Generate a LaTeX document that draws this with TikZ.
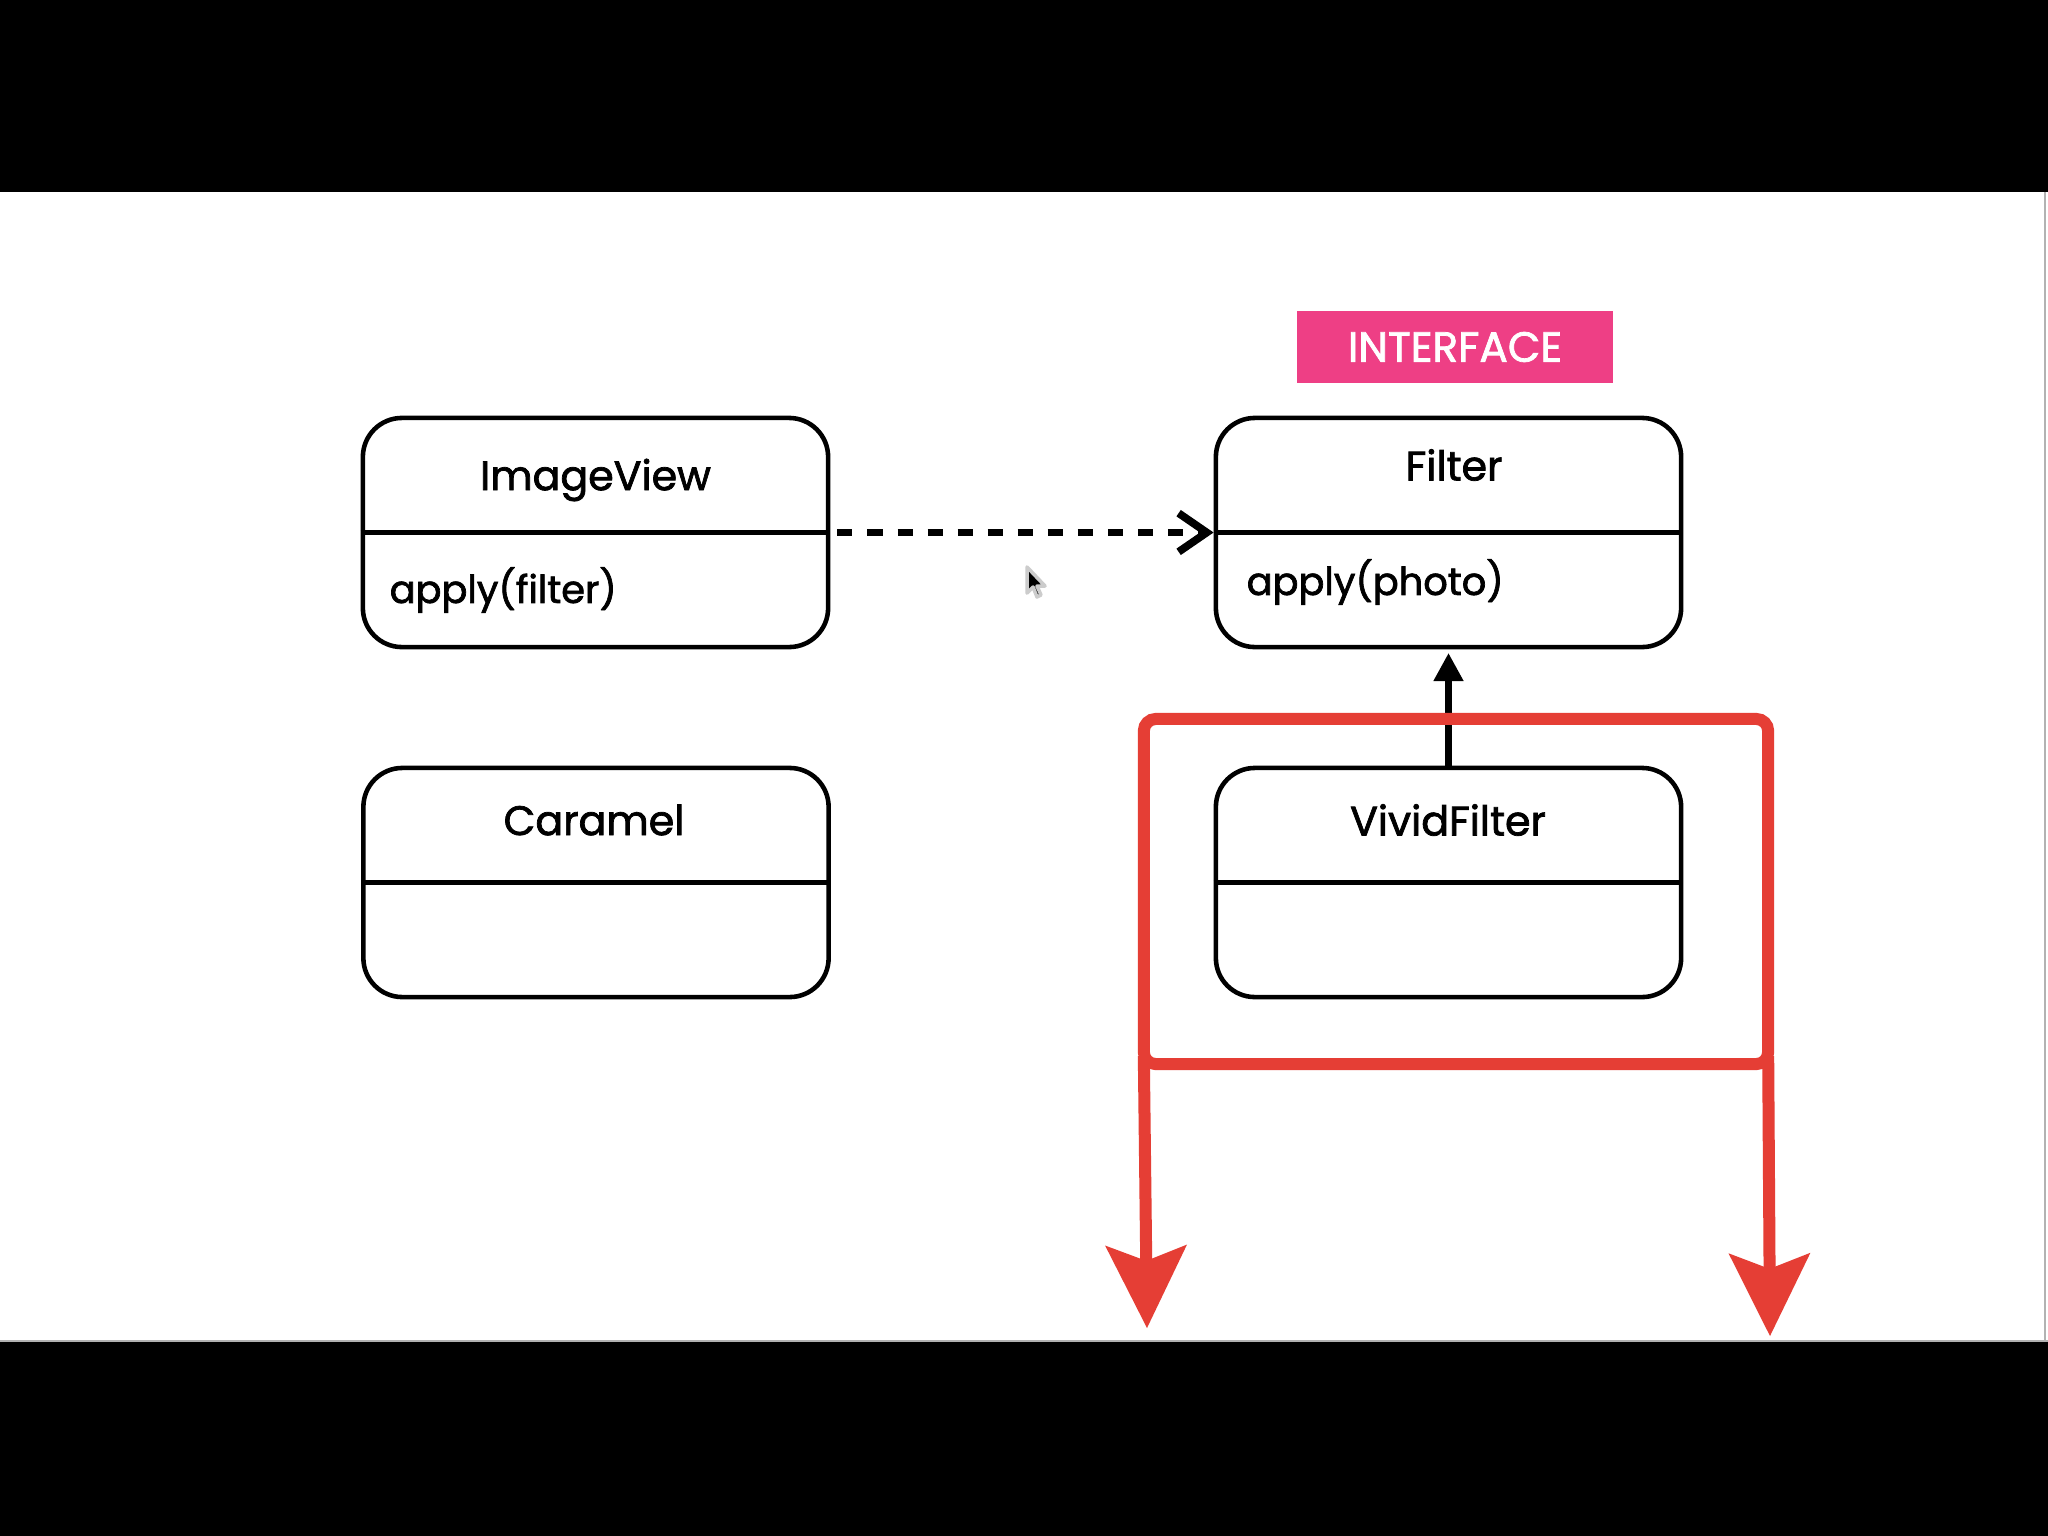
\documentclass[tikz,border=0pt]{standalone}
\usepackage{fontspec}
\setmainfont{Poppins}
\newfontfamily\medfont{Poppins}[FakeBold=1.8]
\usetikzlibrary{arrows.meta,calc}
\definecolor{pinkbg}{HTML}{EE3F85}
\definecolor{redline}{HTML}{E53E35}
\begin{document}
\begin{tikzpicture}[x=0.01cm,y=-0.01cm,
  umlbox/.style={draw,line width=1.3pt,rounded corners=0.39cm,minimum width=4.65cm,minimum height=2.29cm,inner sep=0pt},
  divider/.style={line width=1.2pt},
  titletext/.style={font=\medfont\fontsize{11.7}{14}\selectfont,inner sep=0pt},
  methodtext/.style={font=\medfont\fontsize{10.9}{13}\selectfont,inner sep=0pt,anchor=west},
  tagbox/.style={fill=pinkbg,text=white,minimum width=3.16cm,minimum height=0.72cm,inner sep=0pt,font=\medfont\fontsize{12}{14}\selectfont},
  redframe/.style={draw=redline,line width=0.12cm,rounded corners=0.12cm,minimum width=6.24cm,minimum height=3.45cm,inner sep=0pt,outer sep=0pt},
  redarrow/.style={draw=redline,line width=0.12cm,-{Stealth[length=23.6pt,width=23.3pt,inset=4.5pt,line width=0pt]}},
  realize/.style={line width=2pt,-{Triangle[length=8pt,width=8pt]}},
  depend/.style={line width=2.2pt,dash pattern=on 4.27pt off 4.27pt,-{Straight Barb[length=8pt,width=11pt]}}
]
\useasboundingbox (0,0) rectangle (2048,1536);
\fill[black] (0,0) rectangle (2048,1536);
\fill[white] (0,192) rectangle (2048,1341);
\draw[black!30,line width=0.6pt] (0,1341) -- (2048,1341);
\draw[black!30,line width=0.6pt] (2045,192) -- (2045,1341);

\node[tagbox] (interface) at (1455,347) {INTERFACE};

\node[umlbox] (imageview) at (595.5,532.5) {};
\node[umlbox] (filter) at (1448.5,532.5) {};
\node[umlbox] (caramel) at (596,882.5) {};
\node[umlbox] (vivid) at (1448.5,882.5) {};

\draw[divider] (imageview.west) -- (imageview.east);
\draw[divider] (filter.west) -- (filter.east);
\draw[divider] (caramel.west) -- (caramel.east);
\draw[divider] (vivid.west) -- (vivid.east);

\node[titletext] (imageviewname) at (595.5,480) {ImageView};
\node[titletext] (filtername) at (1454,465) {Filter};
\node[titletext] (caramelname) at (594,820) {Caramel};
\node[titletext] (vividname) at (1448,820) {VividFilter};
\node[methodtext] (imageviewop) at (389,590) {apply(filter)};
\node[methodtext] (filterop) at (1246,582) {apply(photo)};

\draw[depend] ([xshift=2pt]imageview.east) -- (filter.west);
\draw[realize] (vivid.north) -- ([yshift=-1pt]filter.south);

\node[redframe] (redbox) at (1456,891.5) {};
\coordinate (lefttip) at (1147,1328);
\coordinate (righttip) at (1770,1336);
\draw[redarrow] ($(redbox.south west)+(0,-8)$) -- (lefttip);
\draw[redarrow] ($(redbox.south east)+(0,-8)$) -- (righttip);

\filldraw[fill=black,draw=black!20,line width=1pt,line join=round]
  (1027,567) -- (1027,593) -- (1033,587) -- (1037,597) -- (1041,595) -- (1037,586) -- (1045,586) -- cycle;
\end{tikzpicture}
\end{document}
